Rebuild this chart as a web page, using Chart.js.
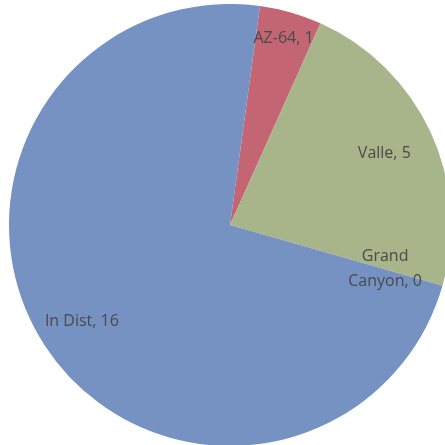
<!DOCTYPE html>
<html>
<head>
<meta charset="utf-8">
<script src="https://cdn.jsdelivr.net/npm/chart.js@4/dist/chart.umd.min.js"></script>
<style>
  html, body { margin: 0; padding: 0; background: #fff; overflow: hidden; }
  body { width: 445px; height: 445px; position: relative; }
  #wrap { position: absolute; left: 9px; top: 4px; width: 442px; height: 442px; }
</style>
</head>
<body>
<div id="wrap"><canvas id="pieChart"></canvas></div>
<script>
// data
const labels = ["AZ-64", "Valle", "Grand Canyon", "In Dist"];
const values = [1, 5, 0, 16];
const colours = ["#c46574", "#a8b48a", "#7a95c1", "#7592c2"];

// draws "Name, value" inside each slice, like the office chart did
const sliceLabels = {
    id: "sliceLabels",
    afterDatasetsDraw(chart, args, opts) {
        const ctx = chart.ctx;
        const meta = chart.getDatasetMeta(0);
        ctx.save();
        ctx.font = opts.font;
        ctx.fillStyle = opts.color;
        ctx.textAlign = "center";
        ctx.textBaseline = "middle";
        meta.data.forEach((arc, i) => {
            const mid = (arc.startAngle + arc.endAngle) / 2;
            const r = arc.outerRadius * opts.radius[i];
            const x = arc.x + Math.cos(mid) * r;
            const y = arc.y + Math.sin(mid) * r;
            const text = labels[i] + ", " + values[i];
            const sp = text.indexOf(" ");
            // wrap long labels at the first space
            if (ctx.measureText(text).width > opts.maxWidth && sp > 0) {
                ctx.fillText(text.slice(0, sp), x, y - opts.lineGap / 2);
                ctx.fillText(text.slice(sp + 1), x, y + opts.lineGap / 2);
            } else {
                ctx.fillText(text, x, y);
            }
        });
        ctx.restore();
    }
};

new Chart(document.getElementById("pieChart"), {
    type: "pie",
    data: {
        labels: labels,
        datasets: [{
            data: values,
            backgroundColor: colours,
            borderWidth: 0
        }]
    },
    options: {
        responsive: true,
        maintainAspectRatio: true,
        animation: false,
        rotation: 7.8,
        layout: { padding: 0 },
        plugins: {
            legend: { display: false },
            tooltip: { enabled: false },
            sliceLabels: {
                font: "16px 'Open Sans', sans-serif",
                color: "#4a4a4a",
                radius: [0.88, 0.77, 0.73, 0.8],
                maxWidth: 100,
                lineGap: 25
            }
        }
    },
    plugins: [sliceLabels]
});
</script>
</body>
</html>
